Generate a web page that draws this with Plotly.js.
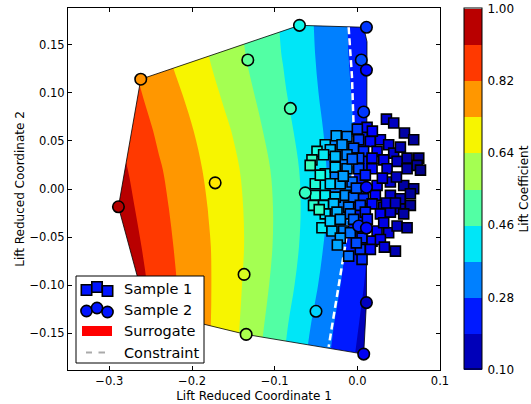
<!DOCTYPE html>
<html>
<head>
<meta charset="utf-8">
<script src="https://cdn.plot.ly/plotly-3.0.1.min.js"></script>
<style>html,body{margin:0;padding:0;background:#fff;}#chart{width:531px;height:404px;}</style>
</head>
<body>
<div id="chart"></div>
<script>
// ---------------- data ----------------
// Surrogate (lift coefficient) estimated on a coarse grid
const gridX = [-0.33,-0.30,-0.27,-0.24,-0.21,-0.18,-0.15,-0.12,-0.09,-0.06,-0.03,0.00,0.03];
const gridY = [-0.18,-0.14,-0.10,-0.06,-0.02,0.02,0.06,0.10,0.14,0.18];
const liftZ = [
  [1.13,1.05,0.972,0.889,0.810,0.733,0.653,0.556,0.463,0.361,0.268,0.178,0.088],
  [1.12,1.04,0.965,0.884,0.808,0.737,0.663,0.573,0.481,0.383,0.286,0.196,0.106],
  [1.10,1.02,0.952,0.872,0.801,0.738,0.668,0.588,0.502,0.412,0.311,0.215,0.122],
  [1.07,1.00,0.932,0.858,0.793,0.736,0.672,0.598,0.515,0.430,0.334,0.232,0.135],
  [1.04,0.978,0.912,0.844,0.784,0.728,0.668,0.598,0.518,0.437,0.351,0.258,0.176],
  [1.02,0.960,0.893,0.829,0.772,0.716,0.658,0.588,0.511,0.433,0.350,0.267,0.190],
  [1.00,0.932,0.867,0.806,0.753,0.696,0.635,0.564,0.492,0.417,0.342,0.269,0.201],
  [0.976,0.905,0.838,0.780,0.726,0.667,0.605,0.539,0.471,0.400,0.331,0.263,0.200],
  [0.955,0.887,0.816,0.754,0.696,0.640,0.580,0.519,0.456,0.390,0.323,0.256,0.190],
  [0.930,0.865,0.800,0.740,0.684,0.628,0.570,0.510,0.449,0.385,0.320,0.254,0.190]
];
// Convex hull of the design space
const hullX = [-0.262,-0.070,0.0077,0.0117,0.011,0.0077,-0.135,-0.255,-0.289];
const hullY = [0.114,0.170,0.168,0.153,-0.118,-0.1715,-0.151,-0.126,-0.0185];
// Constraint line
const constraintX = [-0.0105,-0.0065,-0.0045,-0.006,-0.0145,-0.0206,-0.0267,-0.0347];
const constraintY = [0.168,0.117,0.065,0.0,-0.058,-0.088,-0.122,-0.164];
// Sample 1 (squares)
const s1X = [0.0352,0.0440,0.0570,0.0682,0.0118,-0.0255,-0.0125,0.0016,0.0158,0.0279,0.0379,-0.0388,-0.0327,-0.0185,-0.0045,0.0076,0.0239,0.0440,0.0602,0.0743,-0.0488,-0.0549,-0.0408,-0.0267,-0.0125,0.0016,0.0178,0.0319,0.0481,
  -0.0570,-0.0388,-0.0267,-0.0125,0.0016,0.0178,0.0360,0.0602,0.0724,-0.0509,-0.0327,-0.0206,-0.0064,0.0239,0.0400,0.0561,0.0682,-0.0509,-0.0388,-0.0267,-0.0145,-0.0045,0.0076,0.0218,0.0400,0.0521,0.0642,-0.0530,-0.0408,-0.0287,-0.0105,0.0036,0.0178,0.0319,0.0521,0.0642,-0.0388,-0.0246,-0.0085,0.0097,0.0279,0.0400,0.0561,
  -0.0428,-0.0307,-0.0166,-0.0085,0.0239,0.0379,0.0481,0.0602,-0.0327,-0.0206,-0.0045,0.0319,0.0057,0.0178,0.0279,0.0036,0.0158,0.0461,-0.0105,0.0057,
  -0.0206,0.0073,-0.0012,0.0327,0.0121,0.0303,0.0473,0.0097,-0.0170,-0.0061,0.0521,0.0182,0.0000,-0.0448,-0.0012,0.0352,0.0461,0.0764,-0.0242,-0.0461];
const s1Y = [0.0726,0.0685,0.0581,0.0511,0.0640,0.0553,0.0546,0.0511,0.0494,0.0511,0.0459,0.0459,0.0407,0.0459,0.0425,0.0391,0.0391,0.0373,0.0321,0.0321,0.0391,0.0303,0.0355,0.0339,0.0355,0.0321,0.0321,0.0303,0.0287,
  0.0245,0.0158,0.0227,0.0210,0.0210,0.0210,0.0210,0.0210,0.0245,0.0054,0.0054,0.0054,0.0072,0.0037,0.0072,0.0037,0.0002,-0.0066,-0.0066,-0.0084,-0.0066,-0.0084,-0.0102,-0.0066,-0.0066,-0.0102,-0.0050,-0.0170,-0.0170,-0.0154,-0.0188,-0.0170,-0.0154,-0.0188,-0.0206,-0.0170,-0.0258,-0.0240,-0.0258,-0.0240,-0.0258,-0.0240,-0.0258,
  -0.0403,-0.0437,-0.0437,-0.0455,-0.0437,-0.0455,-0.0385,-0.0403,-0.0333,-0.0316,-0.0316,-0.0351,-0.0507,-0.0541,-0.0524,-0.0627,-0.0627,-0.0645,-0.0697,-0.0731,
  -0.0510,-0.0406,-0.0560,-0.0604,-0.0313,0.0113,0.0124,0.0144,0.0134,0.0311,0.0435,0.0601,0.0622,0.0144,0.0009,-0.0146,-0.0146,0.0196,-0.0581,-0.0214];
const s1Lift = [0.16,0.15,0.13,0.12,0.22,0.36,0.33,0.27,0.22,0.19,0.17,0.40,0.38,0.34,0.29,0.25,0.20,0.16,0.13,0.11,0.44,0.47,0.42,0.38,0.33,0.28,0.22,0.18,0.15,
  0.48,0.42,0.39,0.34,0.28,0.22,0.17,0.13,0.12,0.45,0.40,0.36,0.31,0.20,0.16,0.13,0.12,0.45,0.42,0.38,0.34,0.30,0.25,0.21,0.16,0.14,0.12,0.46,0.42,0.38,0.32,0.27,0.22,0.18,0.14,0.12,0.41,0.37,0.31,0.24,0.19,0.16,0.13,
  0.42,0.38,0.33,0.31,0.20,0.17,0.15,0.13,0.39,0.35,0.30,0.18,0.25,0.22,0.19,0.26,0.22,0.14,0.31,0.25,
  0.35,0.25,0.28,0.17,0.23,0.18,0.15,0.24,0.35,0.30,0.14,0.21,0.27,0.44,0.29,0.17,0.15,0.11,0.36,0.47];
// Sample 2 (circles)
const s2X = [-0.262,-0.070,0.011,-0.1325,0.0048,0.011,-0.081,0.0077,-0.172,-0.063,-0.289,-0.137,-0.050,-0.1345,0.011,0.0077,0.011,0.0016,0.011,-0.255];
const s2Y = [0.114,0.170,0.168,0.134,0.134,0.1235,0.0837,0.080,0.0064,-0.004,-0.0185,-0.0887,-0.127,-0.151,-0.118,-0.1715,0.0017,-0.0385,-0.0406,-0.126];
const s2Lift = [0.78,0.43,0.26,0.52,0.28,0.22,0.49,0.26,0.70,0.47,0.96,0.65,0.40,0.60,0.15,0.19,0.22,0.25,0.22,0.88];
// Colour bar
const cbTicks = [0.10,0.28,0.46,0.64,0.82,1.00];
const legendLabels = ['Sample 1','Sample 2','Surrogate','Constraint'];

// ---------------- styling ----------------
const jet = [[0,'rgb(0,0,128)'],[0.11,'rgb(0,0,255)'],[0.125,'rgb(0,0,255)'],[0.34,'rgb(0,219,255)'],[0.35,'rgb(0,230,247)'],[0.375,'rgb(21,255,226)'],[0.64,'rgb(239,255,8)'],[0.65,'rgb(247,245,0)'],[0.66,'rgb(255,236,0)'],[0.89,'rgb(255,19,0)'],[0.91,'rgb(232,0,0)'],[1,'rgb(128,0,0)']];
const bandCols = ['rgb(0,0,185)','rgb(0,26,255)','rgb(0,128,255)','rgb(0,230,247)','rgb(82,255,164)','rgb(164,255,82)','rgb(247,245,0)','rgb(255,151,0)','rgb(255,57,0)','rgb(185,0,0)'];
const bandScale = [];
bandCols.forEach((c,i)=>{bandScale.push([i/10,c]);bandScale.push([(i+1)/10,c]);});

const X0=-0.35,X1=0.10,Y0=-0.188,Y1=0.188;
// mask = big rectangle minus hull
const maskX=[], maskY=[];
for(let i=0;i<hullX.length;i++){maskX.push(hullX[i]);maskY.push(hullY[i]);}
maskX.push(hullX[0]);maskY.push(hullY[0]);
maskX.push(-0.6,-0.6,0.4,0.4,-0.6,hullX[0]);
maskY.push(0.5,-0.5,-0.5,0.5,0.5,hullY[0]);

const traces = [
  {type:'contour', x:gridX, y:gridY, z:liftZ, autocontour:false,
   contours:{start:0.1,end:1.0,size:0.09,coloring:'fill',showlines:false},
   line:{width:0}, colorscale:bandScale, zmin:0.1, zmax:1.0, hoverinfo:'skip',
   colorbar:{x:(464-68)/372, xanchor:'left', xpad:0, ypad:0, y:0.5, yanchor:'middle', len:361/362, lenmode:'fraction',
     thickness:18, thicknessmode:'pixels', outlinewidth:1, outlinecolor:'#000',
     tickvals:cbTicks, tickformat:'.2f', ticks:'outside', ticklen:3, tickcolor:'rgba(0,0,0,0)', tickwidth:1,
     tickfont:{size:12,color:'#000'}}},
  {type:'scatter', x:maskX, y:maskY, mode:'lines', fill:'toself', fillcolor:'#fff', line:{width:0}, hoverinfo:'skip', showlegend:false},
  {type:'scatter', x:hullX.concat([hullX[0]]), y:hullY.concat([hullY[0]]), mode:'lines', line:{color:'#000',width:0.8}, hoverinfo:'skip', showlegend:false},
  {type:'scatter', x:constraintX, y:constraintY, mode:'lines', line:{color:'#fff',width:2.5,dash:'7px,4px'}, hoverinfo:'skip', showlegend:false},
  {type:'scatter', x:s1X, y:s1Y, mode:'markers', showlegend:false,
   marker:{symbol:'square', size:10, color:s1Lift, colorscale:jet, cmin:0.1, cmax:1.0, showscale:false, line:{color:'#000',width:1.6}}},
  {type:'scatter', x:s2X, y:s2Y, mode:'markers', showlegend:false, cliponaxis:false,
   marker:{symbol:'circle', size:11.5, color:s2Lift, colorscale:jet, cmin:0.1, cmax:1.0, showscale:false, line:{color:'#000',width:1.6}}}
];

// custom legend (matplotlib look) in pixel positions
const PX=p=>(p-68)/372, PY=p=>(370-p)/362;
const shapes=[];
shapes.push({type:'rect',xref:'paper',yref:'paper',x0:PX(76),x1:PX(204),y0:PY(363),y1:PY(276),fillcolor:'#fff',line:{color:'#000',width:1},layer:'above'});
const legBlue='rgb(0,20,255)';
[[86.5,290],[97,287],[107.5,291]].forEach(([cx,cy])=>{
  shapes.push({type:'rect',xref:'paper',yref:'paper',x0:PX(cx-5.2),x1:PX(cx+5.2),y0:PY(cy+5.2),y1:PY(cy-5.2),fillcolor:legBlue,line:{color:'#000',width:1.6},layer:'above'});
});
[[86.5,311],[97,308],[107.5,312]].forEach(([cx,cy])=>{
  shapes.push({type:'circle',xref:'paper',yref:'paper',x0:PX(cx-5.6),x1:PX(cx+5.6),y0:PY(cy+5.6),y1:PY(cy-5.6),fillcolor:legBlue,line:{color:'#000',width:1.6},layer:'above'});
});
shapes.push({type:'rect',xref:'paper',yref:'paper',x0:PX(82),x1:PX(112),y0:PY(336),y1:PY(326),fillcolor:'rgb(255,0,0)',line:{width:0},layer:'above'});
[[86,92],[98.5,105]].forEach(([a,b])=>{
  shapes.push({type:'line',xref:'paper',yref:'paper',x0:PX(a),x1:PX(b),y0:PY(352.5),y1:PY(352.5),line:{color:'#aaaaaa',width:2},layer:'above'});
});
const legY=[288.5,309.5,331,352.5];
const annotations = legendLabels.map((t,i)=>({xref:'paper',yref:'paper',x:PX(121.5),y:PY(legY[i]),xanchor:'left',yanchor:'middle',text:t,showarrow:false,font:{size:14.5,color:'#000'}}));
annotations.push({xref:'paper',yref:'paper',x:PX(523.5),y:PY(189),xanchor:'center',yanchor:'middle',textangle:-90,text:'Lift Coefficient',showarrow:false,font:{size:12,color:'#000'}});

const axisCommon = {showgrid:false, zeroline:false, showline:true, linecolor:'#000', linewidth:1, mirror:'ticks',
  ticks:'inside', ticklen:4, tickcolor:'#000', tickwidth:1, tickfont:{size:11.5,color:'#000'}, automargin:false};

const layout = {
  width:531, height:404, margin:{l:68,r:91,t:8,b:34},
  paper_bgcolor:'#fff', plot_bgcolor:'#fff',
  font:{family:'DejaVu Sans, sans-serif', color:'#000'},
  showlegend:false,
  xaxis:Object.assign({}, axisCommon, {range:[X0,X1], tick0:0, dtick:0.1, tickformat:'.1f',
    title:{text:'Lift Reduced Coordinate 1', font:{size:12}, standoff:4}}),
  yaxis:Object.assign({}, axisCommon, {range:[Y0,Y1], tick0:0, dtick:0.05, tickformat:'.2f',
    title:{text:'Lift Reduced Coordinate 2', font:{size:12}, standoff:2}}),
  shapes:shapes, annotations:annotations
};

Plotly.newPlot('chart', traces, layout, {displayModeBar:false, staticPlot:true});
</script>
</body>
</html>
